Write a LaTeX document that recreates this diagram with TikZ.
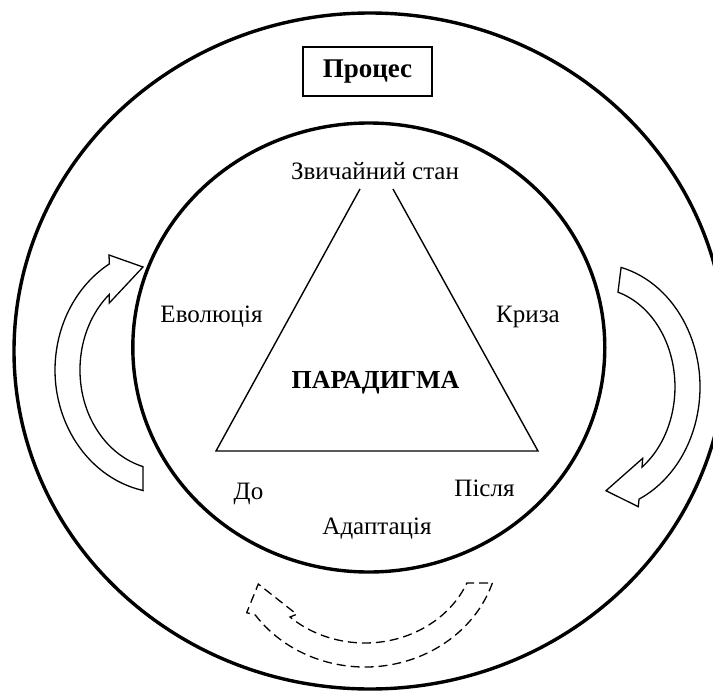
\documentclass[tikz,border=0pt]{standalone}
\usepackage{fontspec}
\setmainfont{Liberation Serif}
\begin{document}
\begin{tikzpicture}[x=0.5pt,y=-0.5pt,
  ring/.style={line width=1.7pt},
  lbl/.style={font=\fontsize{12.5}{15}\selectfont, inner sep=0pt},
  blbl/.style={font=\fontsize{13}{15}\selectfont\bfseries, inner sep=0pt},
  blockarrow/.style={draw, line width=0.65pt, line join=miter},
  tri/.style={line width=0.7pt}]
\useasboundingbox (0,0) rectangle (713,691);
\begin{scope}
  \clip (0,0) rectangle (713,691);
  \draw[ring] (370,351) ellipse [x radius=356, y radius=338];
\end{scope}
% block arrows
\draw[blockarrow] (143.1,490.5) arc[start angle=101.5, end angle=239.6, x radius=110, y radius=123]
  -- (109,255) -- (143,267) -- (109.3,303) -- (109.2,294.5)
  arc[start angle=229, end angle=105, x radius=85, y radius=100] -- cycle;
\draw[blockarrow] (621.1,267.4) arc[start angle=-75.6, end angle=65.2, x radius=105, y radius=123.5]
  -- (638.3,506.7) -- (606,490.7) -- (642.7,458.3) -- (642,467.1)
  arc[start angle=54, end angle=-73.3, x radius=80, y radius=99] -- cycle;
\draw[blockarrow, dash pattern=on 4.5pt off 2.5pt] (492.4,582.9) arc[start angle=18.1, end angle=145, x radius=134, y radius=122]
  -- (246.7,612.7) -- (258.3,584) -- (296.7,614.3) -- (290,617)
  arc[start angle=132.7, end angle=22.8, x radius=110.6, y radius=98] -- cycle;
% inner ring
\draw[ring] (368.8,347.5) ellipse [x radius=236, y radius=224.5];
% process box
\node[draw, line width=0.6pt, minimum width=64.5pt, minimum height=24.5pt, blbl, font=\fontsize{13.5}{15}\selectfont\bfseries] (proc) at (367.5,71.5) {Процес};
% triangle
\coordinate (tl) at (360,189);
\coordinate (tr) at (393,189);
\coordinate (bl) at (216,451);
\coordinate (br) at (538,451);
\draw[tri] (tl) -- (bl) -- (br) -- (tr);
% labels
\node[lbl] (state) at (375,171) {Звичайний стан};
\node[lbl] (evol) at (211.5,317) {Еволюція};
\node[lbl] (kryza) at (528,317) {Криза};
\node[blbl] (par) at (375.5,383) {ПАРАДИГМА};
\node[lbl] (do) at (248.5,494) {До};
\node[lbl] (pislya) at (484.5,488) {Після};
\node[lbl] (adapt) at (377,529) {Адаптація};
\end{tikzpicture}
\end{document}
